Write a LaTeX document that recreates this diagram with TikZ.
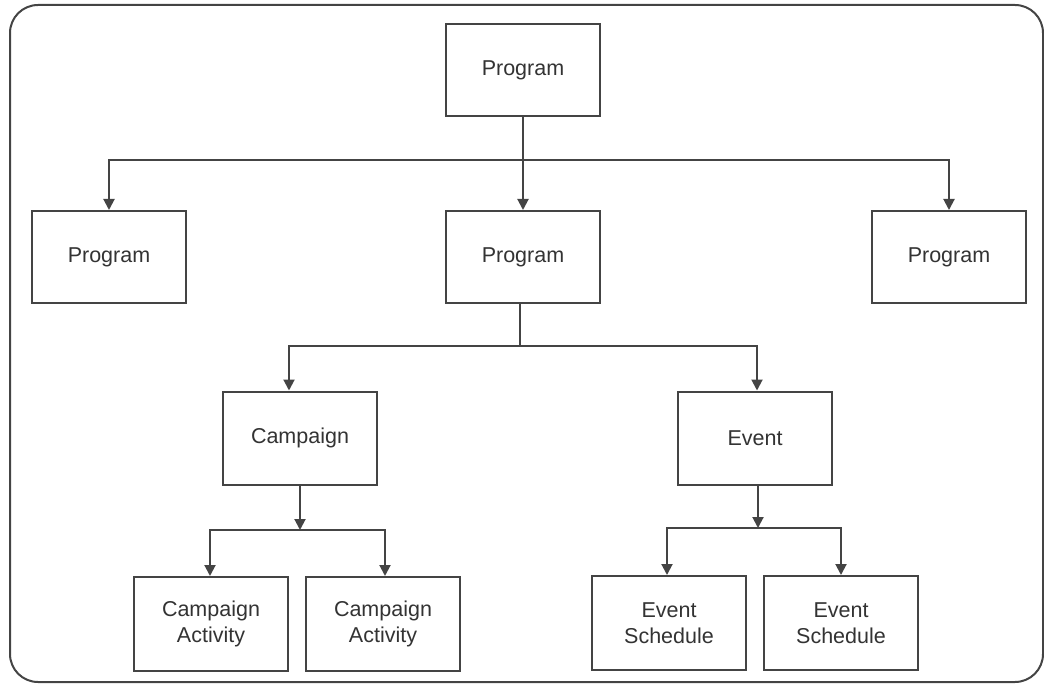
\documentclass[tikz,border=0pt]{standalone}
\usepackage{fontspec}
\setmainfont{Liberation Sans}
\usetikzlibrary{arrows.meta}
\definecolor{linegray}{HTML}{444444}
\definecolor{textgray}{HTML}{333333}
\begin{document}
\begin{tikzpicture}[x=1bp,y=-1bp,
  box/.style={draw=linegray, line width=2bp, fill=white, minimum width=154bp,
    minimum height=92bp, inner sep=0pt, align=center, text=textgray,
    font=\fontsize{21.5bp}{26bp}\selectfont},
  link/.style={draw=linegray, line width=2bp},
  arr/.style={link, -{Triangle[length=11bp,width=11bp]}}]
  \useasboundingbox (0,0) rectangle (1044,684);
  % outer frame
  \draw[linegray, line width=2bp, rounded corners=28bp] (10,5) rectangle (1043,682);

  % nodes
  \node[box] (top) at (523,70) {Program};
  \node[box] (pL) at (109,257) {Program};
  \node[box] (pM) at (523,257) {Program};
  \node[box] (pR) at (949,257) {Program};
  \node[box, minimum height=93bp] (camp) at (300,438) {Campaign};
  \node[box, minimum height=93bp] (event) at (755,438) {Event};
  \node[box, minimum height=94bp] (ca1) at (211,624) {Campaign\\Activity};
  \node[box, minimum height=94bp] (ca2) at (383,624) {Campaign\\Activity};
  \node[box, minimum height=94bp] (es1) at (669,623) {Event\\Schedule};
  \node[box, minimum height=94bp] (es2) at (841,623) {Event\\Schedule};

  % bus coordinates
  \coordinate (busTop) at (523,160);
  \coordinate (busMid) at (520,346);
  \coordinate (busCamp) at (300,530);
  \coordinate (busEvent) at (758,528);

  % top level
  \draw[arr] (top.south) -- (pM.north);
  \draw[arr] (busTop) -| (pL.north);
  \draw[arr] (busTop) -| (pR.north);

  % middle program to campaign and event
  \draw[link] (pM.south -| busMid) -- (busMid);
  \draw[arr] (busMid) -| ([xshift=-11bp]camp.north);
  \draw[arr] (busMid) -| ([xshift=2bp]event.north);

  % campaign to activities
  \draw[arr] (camp.south) -- (busCamp);
  \draw[arr] (busCamp) -| ([xshift=-1bp]ca1.north);
  \draw[arr] (busCamp) -| ([xshift=2bp]ca2.north);

  % event to schedules
  \draw[arr] (event.south -| busEvent) -- (busEvent);
  \draw[arr] (busEvent) -| ([xshift=-2bp]es1.north);
  \draw[arr] (busEvent) -| (es2.north);
\end{tikzpicture}
\end{document}
